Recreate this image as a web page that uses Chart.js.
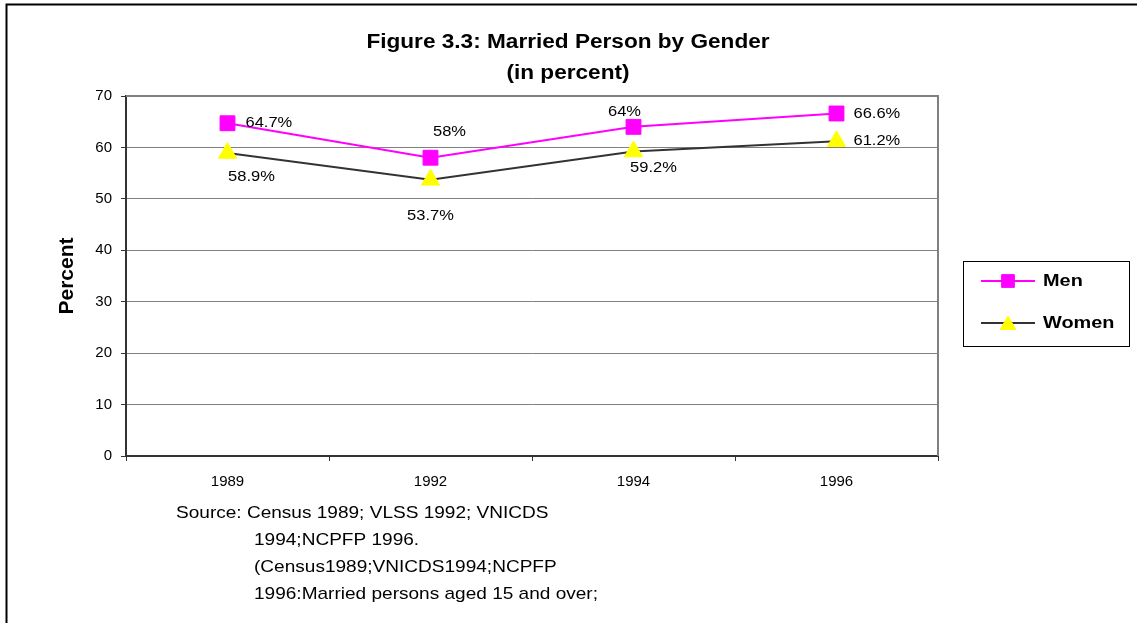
<!DOCTYPE html>
<html>
<head>
<meta charset="utf-8">
<title>Married Person by Gender</title>
<script src="https://cdn.jsdelivr.net/npm/chart.js"></script>
<style>
  html, body { margin: 0; padding: 0; background: #fff; }
  canvas { display: block; }
</style>
</head>
<body>
<canvas id="marriedChart" width="1137" height="623"></canvas>
<script>
  // Data
  const years = ['1989', '1992', '1994', '1996'];
  const men = [64.7, 58, 64, 66.6];
  const women = [58.9, 53.7, 59.2, 61.2];
  const yTicks = [0, 10, 20, 30, 40, 50, 60, 70];

  const titleLines = ['Figure 3.3: Married Person by Gender', '(in percent)'];
  const sourceLines = [
    'Source: Census 1989; VLSS 1992; VNICDS',
    '1994;NCPFP 1996.',
    '(Census1989;VNICDS1994;NCPFP',
    '1996:Married persons aged 15 and over;'
  ];

  // label placement next to each point: [dx, dy, align]
  const menLabelPos = [[18, 0, 'left'], [19, -26, 'center'], [-9, -15, 'center'], [17, 0, 'left']];
  const womenLabelPos = [[24, 24, 'center'], [0, 36, 'center'], [20, 16, 'center'], [17, 0, 'left']];

  const FONT = 'Arial, "Liberation Sans", sans-serif';

  // draws text slightly stretched sideways, like the original export
  function stretchText(ctx, str, x, y, font, align, sx) {
    ctx.save();
    ctx.translate(x, y);
    ctx.scale(sx, 1);
    ctx.font = font;
    ctx.textAlign = align;
    ctx.textBaseline = 'middle';
    ctx.fillStyle = '#000';
    ctx.fillText(str, 0, 0);
    ctx.restore();
  }

  const decorPlugin = {
    id: 'decor',
    beforeDatasetsDraw(chart) {
      const ctx = chart.ctx;
      const a = chart.chartArea;
      // grey plot border (top and right)
      ctx.save();
      ctx.strokeStyle = '#808080';
      ctx.lineWidth = 2;
      ctx.beginPath();
      ctx.moveTo(a.left, a.top);
      ctx.lineTo(a.right, a.top);
      ctx.lineTo(a.right, a.bottom);
      ctx.stroke();
      ctx.restore();
    },
    afterDraw(chart) {
      const ctx = chart.ctx;

      // outer frame
      ctx.save();
      ctx.strokeStyle = '#000';
      ctx.lineWidth = 2;
      ctx.beginPath();
      ctx.moveTo(6.5, 623);
      ctx.lineTo(6.5, 4.5);
      ctx.lineTo(1137, 4.5);
      ctx.stroke();
      ctx.restore();

      // title
      stretchText(ctx, titleLines[0], 568, 42, 'bold 20px ' + FONT, 'center', 1.13);
      stretchText(ctx, titleLines[1], 568, 73, 'bold 20px ' + FONT, 'center', 1.13);

      // y axis title
      ctx.save();
      ctx.translate(67, 276);
      ctx.rotate(-Math.PI / 2);
      ctx.font = 'bold 21px ' + FONT;
      ctx.textAlign = 'center';
      ctx.textBaseline = 'middle';
      ctx.fillStyle = '#000';
      ctx.fillText('Percent', 0, 0);
      ctx.restore();

      // data labels
      [menLabelPos, womenLabelPos].forEach((pos, di) => {
        const meta = chart.getDatasetMeta(di);
        const values = chart.data.datasets[di].data;
        meta.data.forEach((pt, i) => {
          const p = pos[i];
          stretchText(ctx, values[i] + '%', pt.x + p[0], pt.y + p[1], '15px ' + FONT, p[2], 1.1);
        });
      });

      // source note
      stretchText(ctx, sourceLines[0], 176, 513, '17px ' + FONT, 'left', 1.12);
      for (let i = 1; i < sourceLines.length; i++) {
        stretchText(ctx, sourceLines[i], 254, 513 + i * 27, '17px ' + FONT, 'left', 1.12);
      }

      // legend
      ctx.save();
      ctx.strokeStyle = '#000';
      ctx.lineWidth = 1;
      ctx.strokeRect(963.5, 261.5, 166, 85);
      ctx.restore();
      const rows = [281, 323];
      chart.data.datasets.forEach((ds, i) => {
        const y = rows[i];
        ctx.save();
        ctx.strokeStyle = ds.borderColor;
        ctx.lineWidth = 2;
        ctx.beginPath();
        ctx.moveTo(981, y);
        ctx.lineTo(1035, y);
        ctx.stroke();
        ctx.fillStyle = ds.pointBackgroundColor;
        ctx.strokeStyle = ds.pointBorderColor;
        ctx.lineWidth = 1;
        Chart.helpers.drawPoint(ctx, {
          pointStyle: ds.pointStyle,
          radius: ds.pointStyle === 'rect' ? 9 : 9,
          rotation: 0,
          borderWidth: 1
        }, 1008, ds.pointStyle === 'rect' ? y : y + 2);
        ctx.restore();
        stretchText(ctx, ds.label, 1043, y, 'bold 17px ' + FONT, 'left', 1.17);
      });
    }
  };

  new Chart(document.getElementById('marriedChart'), {
    type: 'line',
    data: {
      labels: years,
      datasets: [{
        label: 'Men',
        data: men,
        borderColor: '#ff00ff',
        borderWidth: 2,
        pointStyle: 'rect',
        pointRadius: 10.5,
        pointBackgroundColor: '#ff00ff',
        pointBorderColor: '#ff00ff',
        pointBorderWidth: 1,
        tension: 0,
        fill: false
      }, {
        label: 'Women',
        data: women,
        borderColor: '#333333',
        borderWidth: 2,
        pointStyle: 'triangle',
        pointRadius: 10.5,
        pointBackgroundColor: '#ffff00',
        pointBorderColor: '#ffff00',
        pointBorderWidth: 1,
        tension: 0,
        fill: false
      }]
    },
    options: {
      responsive: false,
      animation: false,
      layout: { padding: { left: 0, right: 199, top: 96, bottom: 137 } },
      plugins: {
        legend: { display: false },
        title: { display: false },
        tooltip: { enabled: false }
      },
      scales: {
        x: {
          offset: true,
          grid: { offset: true, drawOnChartArea: false, tickLength: 5, tickColor: '#333', tickWidth: 1 },
          border: { color: '#333', width: 2 },
          ticks: { color: '#000', font: { family: FONT, size: 15 }, padding: 12, maxRotation: 0 },
          afterFit(scale) { scale.height = 30; }
        },
        y: {
          min: 0,
          max: 70,
          afterBuildTicks(scale) { scale.ticks = yTicks.map(v => ({ value: v })); },
          grid: { color: '#808080', lineWidth: 1, tickLength: 5, tickColor: '#333' },
          border: { color: '#333', width: 2 },
          ticks: { color: '#000', font: { family: FONT, size: 15 }, padding: 9 },
          afterFit(scale) { scale.width = 126; }
        }
      }
    },
    plugins: [decorPlugin]
  });
</script>
</body>
</html>
